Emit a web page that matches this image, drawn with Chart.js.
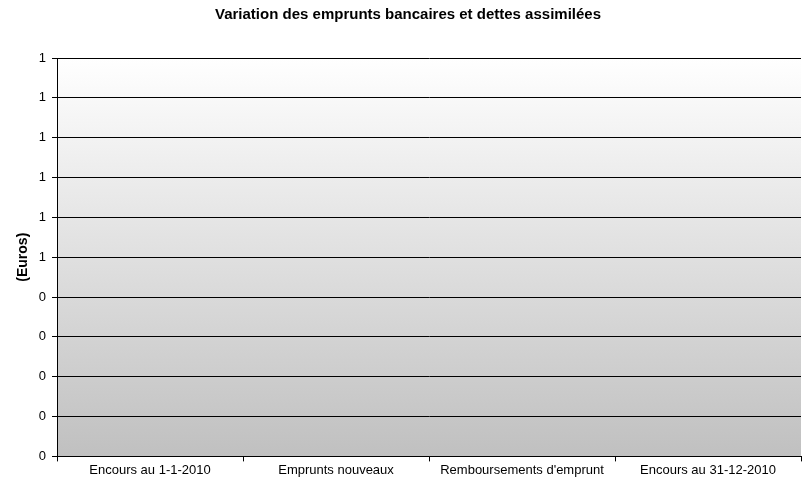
<!DOCTYPE html>
<html>
<head>
<meta charset="utf-8">
<script src="https://cdn.jsdelivr.net/npm/chart.js@4/dist/chart.umd.min.js"></script>
<style>
  html, body { margin: 0; padding: 0; background: #fff; }
  #wrap { width: 802px; height: 487px; }
</style>
</head>
<body>
<div id="wrap"><canvas id="chart" width="802" height="487"></canvas></div>
<script>
const categories = ['Encours au 1-1-2010', 'Emprunts nouveaux', "Remboursements d'emprunt", 'Encours au 31-12-2010'];
const values = [0, 0, 0, 0];
const yMin = 0;
const yMax = 1;
const yStep = 0.1;

const font = 'Arial, "Liberation Sans", sans-serif';

// gradient fill behind the plot area (drawn before grid)
const plotBg = {
  id: 'plotBg',
  beforeDraw(chart) {
    const { ctx, chartArea: a } = chart;
    const g = ctx.createLinearGradient(0, a.top, 0, a.bottom);
    g.addColorStop(0, '#ffffff');
    g.addColorStop(1, '#c0c0c0');
    ctx.save();
    ctx.fillStyle = g;
    ctx.fillRect(a.left, a.top, a.right - a.left, a.bottom - a.top);
    ctx.restore();
  }
};

new Chart(document.getElementById('chart'), {
  type: 'bar',
  data: {
    labels: categories,
    datasets: [{ data: values, backgroundColor: '#9999ff', borderColor: '#000', borderWidth: 1 }]
  },
  plugins: [plotBg],
  options: {
    responsive: false,
    animation: false,
    layout: { padding: { top: 0, right: 1, bottom: 8, left: 15 } },
    plugins: {
      legend: { display: false },
      tooltip: { enabled: false },
      title: {
        display: true,
        text: 'Variation des emprunts bancaires et dettes assimilées',
        color: '#000',
        font: { family: font, size: 15, weight: 'bold' },
        padding: { top: 6, bottom: 34 }
      }
    },
    scales: {
      x: {
        grid: { drawOnChartArea: false, offset: true, color: '#000', tickLength: 5 },
        border: { color: '#000' },
        ticks: { color: '#000', font: { family: font, size: 13 }, maxRotation: 0, padding: 1 }
      },
      y: {
        min: yMin,
        max: yMax,
        grid: { color: '#000', tickLength: 5 },
        border: { color: '#000' },
        ticks: {
          stepSize: yStep,
          color: '#000',
          font: { family: font, size: 13 },
          padding: 6,
          callback: v => v.toFixed(0)
        },
        title: {
          display: true,
          text: '(Euros)',
          color: '#000',
          font: { family: font, size: 14, weight: 'bold' },
          padding: { top: 0, bottom: 1 }
        }
      }
    }
  }
});
</script>
</body>
</html>
